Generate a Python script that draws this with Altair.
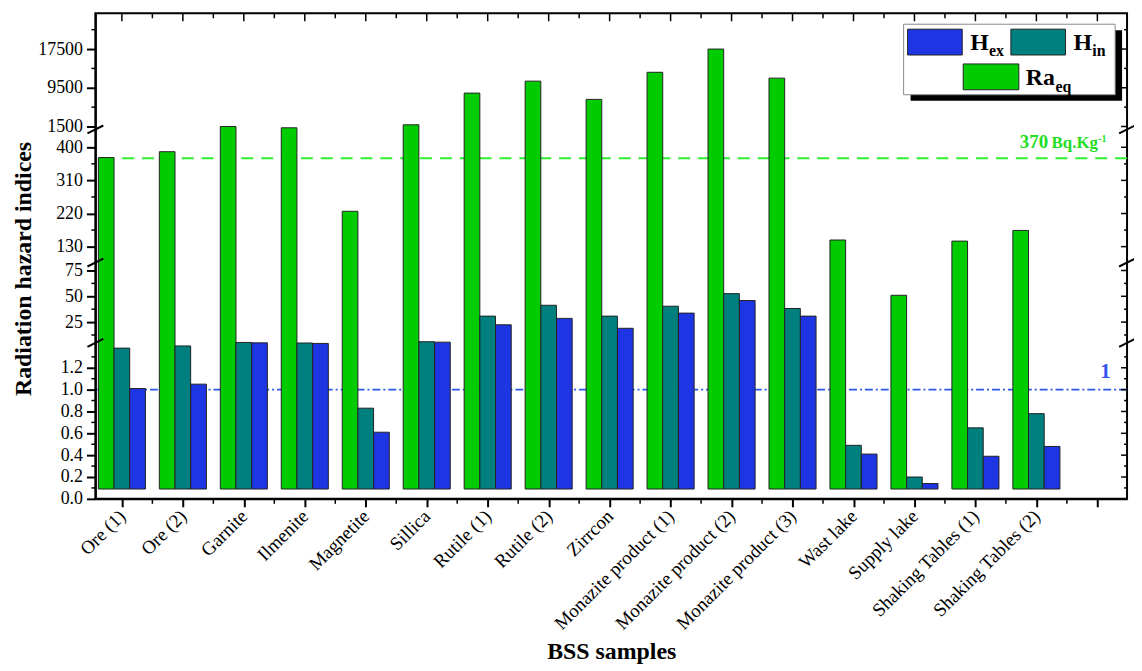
import json
import altair as alt
import pandas as pd

# ---------------- data ----------------
samples = ["Ore  (1)", "Ore  (2)", "Garnite", "Ilmenite", "Magnetite", "Sillica",
           "Rutile (1)", "Rutile (2)", "Zirrcon", "Monazite  product (1)",
           "Monazite product (2)", "Monazite product (3)", "Wast lake", "Supply lake",
           "Shaking Tables (1)", "Shaking Tables (2)"]
ra_eq = [372, 388, 1500, 1230, 226, 1850, 8400, 10870, 7100, 12700, 17500, 11490, 148, 51, 145, 174]
h_in = [1.38, 1.40, 4.6, 3.9, 0.83, 5.6, 30.8, 41.3, 30.8, 40.4, 52.6, 38.2, 0.49, 0.20, 0.65, 0.78]
h_ex = [1.01, 1.05, 4.05, 3.3, 0.61, 5.0, 22.4, 28.6, 19.0, 33.7, 45.9, 30.8, 0.41, 0.14, 0.39, 0.48]

y_ticks = [0, 0.2, 0.4, 0.6, 0.8, 1.0, 1.2, 25, 50, 75, 130, 220, 310, 400, 1500, 9500, 17500]
y_minor = [0.1, 0.3, 0.5, 0.7, 0.9, 1.1, 1.3, 12.5, 37.5, 62.5, 175, 265, 355, 5500, 13500, 21500]
ra_limit = 370
h_limit = 1.0
bar_base = 0.09

series_names = ["Ra_eq", "H_in", "H_ex"]
series_colors = ["#00CC00", "#007F7F", "#1E35E3"]

# ---------------- layout ----------------
W, H = 1039, 489
FONT = "Liberation Serif"

x_scale = alt.Scale(domain=[-0.435, 16.487], nice=False, zero=False)
# broken axis: piecewise-linear scale (segments 0-1.41 | 7-80.8 | 92.2-443 | 1295-24885)
y_scale = alt.Scale(domain=[0, 1.41, 7.0, 80.8, 92.2, 443, 1295, 24885],
                    range=[489, 333.9, 329.7, 253, 249, 119, 115, 0],
                    nice=False, zero=False)

offsets = [-0.386, -0.129, 0.129]
bw = 0.257
rows = []
for s, vals, off in zip(series_names, [ra_eq, h_in, h_ex], offsets):
    for i, v in enumerate(vals):
        rows.append({"sample": samples[i], "series": s, "value": v,
                     "x0": i + off, "x1": i + off + bw})
bars_df = pd.DataFrame(rows)

label_list = samples + [""]
x_axis = alt.Axis(values=list(range(17)),
                  labelExpr="%s[datum.value]" % json.dumps(label_list),
                  labelAngle=315, labelAlign="right", labelBaseline="middle",
                  labelFont=FONT, labelFontSize=19, labelColor="black",
                  labelPadding=6, labelOverlap=False, labelFlush=False,
                  tickSize=8, tickWidth=2, tickColor="black",
                  domainColor="black", domainWidth=2, grid=False,
                  title="BSS samples", titleFont=FONT, titleFontSize=24,
                  titleFontWeight="bold", titleColor="black",
                  titleY=161, titleBaseline="alphabetic")
y_axis = alt.Axis(values=y_ticks,
                  labelExpr="datum.value < 2 ? format(datum.value, '.1f') : format(datum.value, 'd')",
                  labelFont=FONT, labelFontSize=18, labelColor="black",
                  labelPadding=4, labelOverlap=False, labelFlush=False,
                  tickSize=9, tickWidth=2, tickColor="black",
                  domainColor="black", domainWidth=2, grid=False,
                  title="Radiation hazard indices", titleFont=FONT, titleFontSize=24,
                  titleFontWeight="bold", titleColor="black",
                  titleAngle=270, titleX=-72, titleY=257,
                  titleAlign="center", titleBaseline="middle")

one = alt.Data(values=[{}])

bars = alt.Chart(bars_df).mark_bar(stroke="#222222", strokeWidth=1).encode(
    x=alt.X("x0:Q", scale=x_scale, axis=x_axis),
    x2="x1:Q",
    y=alt.Y("value:Q", scale=y_scale, axis=y_axis),
    y2=alt.datum(bar_base),
    color=alt.Color("series:N", scale=alt.Scale(domain=series_names, range=series_colors), legend=None),
)

green_line = alt.Chart(one).mark_rule(color="#2EF02E", strokeWidth=2, strokeDash=[12, 8]).encode(
    y=alt.YDatum(ra_limit, scale=y_scale, axis=y_axis))
blue_line = alt.Chart(one).mark_rule(color="#2A58E8", strokeWidth=1.6, strokeDash=[8, 3, 2, 3]).encode(
    y=alt.YDatum(h_limit, scale=y_scale, axis=y_axis))

ymaj_df = pd.DataFrame({"v": y_ticks})
ymin_df = pd.DataFrame({"v": y_minor})
xmaj_df = pd.DataFrame({"k": list(range(17))})
xmin_df = pd.DataFrame({"k": [i + 0.5 for i in range(16)]})

def yrule(df, xa, xb):
    return alt.Chart(df).mark_rule(color="black", strokeWidth=1.5).encode(
        y=alt.Y("v:Q", scale=y_scale, axis=y_axis), x=alt.value(xa), x2=alt.value(xb))

def xrule(df, ya, yb):
    return alt.Chart(df).mark_rule(color="black", strokeWidth=1.5).encode(
        x=alt.X("k:Q", scale=x_scale, axis=x_axis), y=alt.value(ya), y2=alt.value(yb))

ticks = [
    yrule(ymin_df, -4, 0),
    yrule(ymaj_df, W - 6, W),
    yrule(ymin_df, W - 3, W),
    xrule(xmaj_df, 0, 8),
    xrule(xmin_df, 0, 5),
    xrule(xmin_df, H, H + 5),
]

def slash(xc, yc):
    return alt.Chart(one).mark_rule(color="black", strokeWidth=2).encode(
        x=alt.value(xc - 8), x2=alt.value(xc + 8), y=alt.value(yc + 4), y2=alt.value(yc - 4))

breaks = [slash(x, y) for x in (0, W) for y in (117, 251, 332)]

def rect(x1, y1, x2, y2, fill, stroke=None, sw=1):
    kw = {"fill": fill}
    if stroke:
        kw.update(stroke=stroke, strokeWidth=sw)
    return alt.Chart(one).mark_rect(**kw).encode(
        x=alt.value(x1), x2=alt.value(x2), y=alt.value(y1), y2=alt.value(y2))

def txt(x, y, s, size, color="black", weight="bold", font=FONT):
    return alt.Chart(one).mark_text(align="left", baseline="alphabetic", font=font,
                                    fontSize=size, fontWeight=weight, color=color).encode(
        x=alt.value(x), y=alt.value(y), text=alt.value(s))

legend = [
    rect(821, 17, 1034, 88, "black"),
    rect(814, 11, 1027, 82, "white", "#888888", 1),
    rect(818, 16, 873, 42, series_colors[2], "#222222", 1),
    txt(881, 37, "H", 24), txt(900, 43, "ex", 16),
    rect(922, 16, 977, 42, series_colors[1], "#222222", 1),
    txt(985, 37, "H", 24), txt(1004, 43, "in", 16),
    rect(874, 51, 930, 77, series_colors[0], "#222222", 1),
    txt(937, 72, "Ra", 24), txt(967, 79, "eq", 16),
]

annot = [
    txt(931, 136, "370", 19, color="#22DD22"),
    txt(963, 136, "Bq.Kg", 17, color="#22DD22"),
    txt(1010, 130, "-1", 10, color="#22DD22"),
    txt(1012, 367, "1", 21, color="#3355EE"),
]

chart = alt.layer(green_line, blue_line, bars, *ticks, *breaks, *legend, *annot).properties(
    width=W, height=H,
    autosize=alt.AutoSizeParams(type="none"),
    padding={"left": 88, "top": 3, "right": 7, "bottom": 166},
).configure_view(stroke="black", strokeWidth=2)

chart.save("out.html", embed_options={"renderer": "svg", "actions": False})
